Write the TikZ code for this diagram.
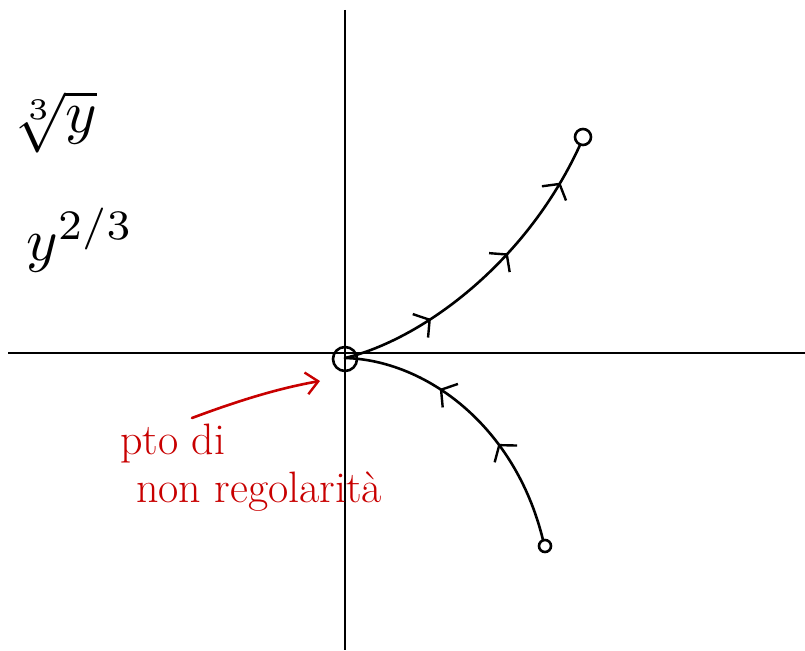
\documentclass[tikz,border=0pt]{standalone}
\usetikzlibrary{arrows.meta,decorations.markings}
\definecolor{pen}{RGB}{200,0,0}
\begin{document}
\begin{tikzpicture}[x=1pt,y=-1pt,
  ink/.style={line width=2.6pt,line cap=round,black},
  axis/.style={line width=1.8pt,black},
  barb/.tip={Straight Barb[length=11pt,width=28pt,line width=2.4pt]},
  fwd/.style={postaction={decorate},decoration={markings,
     mark=at position 0.29 with {\arrow{barb}},
     mark=at position 0.60 with {\arrow{barb}},
     mark=at position 0.87 with {\arrow{barb}}}},
  bwd/.style={postaction={decorate},decoration={markings,
     mark=at position 0.35 with {\arrowreversed{barb}},
     mark=at position 0.63 with {\arrowreversed{barb}}}},
  mathlbl/.style={inner sep=0pt},
  redtxt/.style={text=pen,font=\fontsize{44}{46}\selectfont,inner sep=0pt,anchor=base west}]
\useasboundingbox (0,0) rectangle (805,650);
% axes
\coordinate (xl) at (8,353);
\coordinate (xr) at (805,353);
\coordinate (yt) at (345,10);
\coordinate (yb) at (345,650);
\draw[axis] (xl) -- (xr);
\draw[axis] (yt) -- (yb);
% points
\coordinate (O) at (345,358);
\coordinate (A) at (580,145);
\coordinate (B) at (543,540);
\draw[ink] (345,359) circle (12);
\draw[ink] (583,137) circle (8);
\draw[ink] (545,546) circle (6);
% trajectories
\draw[ink,fwd] (O) .. controls (420,340) and (525,265) .. (A);
\draw[ink,bwd] (O) .. controls (425,360) and (515,425) .. (B);
% labels
\node[mathlbl] (cbrt) at (54,122) {\scalebox{6}{$\sqrt[3]{y}$}};
\node[mathlbl] (pow) at (80,240) {\scalebox{6}{$y^{2/3}$}};
\node[redtxt] (l1) at (120,454) {pto di};
\node[redtxt] (l2) at (136,502) {non regolarità};
\coordinate (rs) at (192,418);
\coordinate (re) at (320,381);
\draw[pen,line width=2.6pt,line cap=round,-{Straight Barb[length=12pt,width=22pt,line width=2.4pt]}] (rs) .. controls (240,400) and (280,388) .. (re);
\end{tikzpicture}
\end{document}
